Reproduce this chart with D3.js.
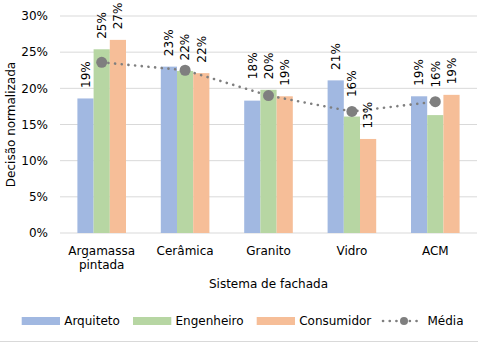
<!DOCTYPE html>
<html><head><meta charset="utf-8">
<script src="https://cdn.jsdelivr.net/npm/d3@7"></script>
<style>
html,body{margin:0;padding:0;background:#fff;}
text{font-family:"DejaVu Sans",Verdana,sans-serif;fill:#000;}
</style></head>
<body><svg id="c" width="478" height="342"></svg>
<script>
const categories = ["Argamassa|pintada","Cerâmica","Granito","Vidro","ACM"];
const seriesNames = ["Arquiteto","Engenheiro","Consumidor"];
const arquiteto  = [18.6, 23.0, 18.3, 21.1, 18.9];
const engenheiro = [25.4, 22.4, 19.8, 16.1, 16.3];
const consumidor = [26.7, 22.1, 18.9, 13.0, 19.1];
const media      = [23.6, 22.5, 19.0, 16.8, 18.15];
const yTicks = [0, 5, 10, 15, 20, 25, 30];
const labelsArq = ["19%","23%","18%","21%","19%"];
const labelsEng = ["25%","22%","20%","16%","16%"];
const labelsCon = ["27%","22%","19%","13%","19%"];

const colors = ["#A1B8E1","#B7D6A3","#F6BE98"];
const lineColor = "#7F7F7F";
const series = [arquiteto, engenheiro, consumidor];
const labels = [labelsArq, labelsEng, labelsCon];
// extra label lift (px) for manually moved labels [series][category]
const extraLift = [[0,0,11,0,0],[0,0,0,9,17],[0,0,0,0,0]];

const svg = d3.select("#c");
const L = 60, R = 477, T = 16, B = 233;
const x = d3.scaleBand().domain(categories).range([L, R]);
const y = d3.scaleLinear().domain([0, 30]).range([B, T]);
const bw = 16.2;
const xs = d3.scaleBand().domain(seriesNames).range([0, bw*3]).padding(0);

// gridlines
svg.append("g").selectAll("line").data(yTicks).join("line")
  .attr("x1", L).attr("x2", R)
  .attr("y1", d => y(d)).attr("y2", d => y(d))
  .attr("stroke", "#D9D9D9").attr("stroke-width", 1);

// y tick labels
svg.append("g").selectAll("text").data(yTicks).join("text")
  .attr("x", 48).attr("y", d => y(d)).attr("dy", "0.36em")
  .attr("text-anchor", "end").attr("font-size", 12)
  .text(d => d + "%");

// bars
series.forEach((vals, si) => {
  const g = svg.append("g");
  g.selectAll("rect").data(vals).join("rect")
    .attr("x", (d, i) => x(categories[i]) + x.bandwidth()/2 - bw*1.5 + xs(seriesNames[si]))
    .attr("width", bw)
    .attr("y", d => y(d)).attr("height", d => B - y(d))
    .attr("fill", colors[si]);
});

// media line
const cx = i => x(categories[i]) + x.bandwidth()/2;
const line = d3.line().x((d, i) => cx(i)).y(d => y(d));
svg.append("path").datum(media).attr("d", line)
  .attr("fill", "none").attr("stroke", lineColor).attr("stroke-width", 2.6)
  .attr("stroke-linecap", "round").attr("stroke-dasharray", "0.1 6.6");
svg.append("g").selectAll("circle").data(media).join("circle")
  .attr("cx", (d, i) => cx(i)).attr("cy", d => y(d)).attr("r", 5.5)
  .attr("fill", lineColor);

// data labels
series.forEach((vals, si) => {
  svg.append("g").selectAll("text").data(vals).join("text")
    .attr("transform", (d, i) => {
      const bx = x(categories[i]) + x.bandwidth()/2 - bw*1.5 + xs(seriesNames[si]) + bw/2;
      return `translate(${bx},${y(d) - 10.5 - extraLift[si][i]}) rotate(-90)`;
    })
    .attr("dy", "0.36em").attr("text-anchor", "start").attr("font-size", 12)
    .text((d, i) => labels[si][i]);
});

// category labels
categories.forEach((c, i) => {
  const lines = c.split("|");
  const t = svg.append("text").attr("x", cx(i)).attr("y", 255)
    .attr("text-anchor", "middle").attr("font-size", 12);
  lines.forEach((ln, k) => t.append("tspan").attr("x", cx(i)).attr("dy", k ? 13.5 : 0).text(ln));
});

// axis titles
svg.append("text").attr("x", (L + R)/2).attr("y", 288).attr("text-anchor", "middle")
  .attr("font-size", 12).text("Sistema de fachada");
svg.append("text").attr("transform", `translate(15,${(T + B)/2}) rotate(-90)`)
  .attr("text-anchor", "middle").attr("font-size", 12).text("Decisão normalizada");

// legend
const lg = svg.append("g");
const legX = [21.7, 133, 256.7];
seriesNames.forEach((n, i) => {
  lg.append("rect").attr("x", legX[i]).attr("y", 317).attr("width", 38.3).attr("height", 8).attr("fill", colors[i]);
  lg.append("text").attr("x", legX[i] + 42.5).attr("y", 325).attr("font-size", 12).text(n);
});
lg.append("line").attr("x1", 383).attr("x2", 423).attr("y1", 321).attr("y2", 321)
  .attr("stroke", lineColor).attr("stroke-width", 2.6).attr("stroke-linecap", "round")
  .attr("stroke-dasharray", "0.1 6.6");
lg.append("circle").attr("cx", 404).attr("cy", 321).attr("r", 4).attr("fill", lineColor);
lg.append("text").attr("x", 427.5).attr("y", 325).attr("font-size", 12).text("Média");

// bottom border
svg.append("line").attr("x1", 0).attr("x2", 478).attr("y1", 341.5).attr("y2", 341.5)
  .attr("stroke", "#D9D9D9").attr("stroke-width", 1);
</script></body></html>
